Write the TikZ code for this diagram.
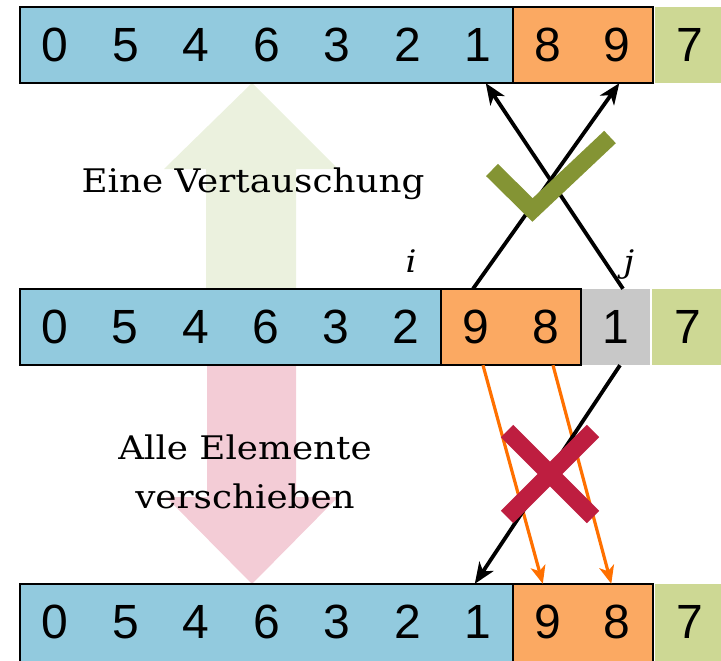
\documentclass[tikz,border=0pt]{standalone}
\usepackage{fontspec}
\setmainfont{DejaVu Serif}[FakeStretch=1.1]
\newfontfamily\numfont{Liberation Sans}
\usetikzlibrary{arrows.meta}
\definecolor{cblue}{HTML}{92CADE}
\definecolor{corange}{HTML}{FBA962}
\definecolor{cgreen}{HTML}{CDD894}
\definecolor{cgray}{HTML}{C8C8C8}
\definecolor{cupar}{HTML}{EBF1DE}
\definecolor{cdownar}{HTML}{F3CCD6}
\definecolor{ccheck}{HTML}{849434}
\definecolor{ccross}{HTML}{BE1E40}
\definecolor{carrow}{HTML}{FF7000}
\begin{document}
\begin{tikzpicture}[x=1pt,y=-1pt,
  cell/.style={minimum width=70pt,minimum height=76pt,inner sep=0pt,
    font=\numfont\fontsize{48}{50}\selectfont},
  grp/.style={draw=black,line width=2.4pt},
  conn/.style={line width=3.8pt,draw=black,-{Stealth[length=21pt,width=17pt,inset=6pt]}},
  oconn/.style={line width=3.2pt,draw=carrow,-{Stealth[length=18pt,width=15pt,inset=5pt]}},
  lab/.style={font=\fontsize{32.5}{49}\selectfont,inner sep=0pt},
  idx/.style={font=\itshape\fontsize{31}{32}\selectfont,inner sep=0pt,anchor=base}]
\useasboundingbox (0,0) rectangle (721,661);
% big faint arrows
\fill[cupar] (206,289) -- (206,169) -- (164,169) -- (252,83) -- (338,169) -- (296,169) -- (296,289) -- cycle;
\fill[cdownar] (207,366) -- (207,497) -- (166,497) -- (252,584) -- (338,497) -- (296,497) -- (296,366) -- cycle;
% labels
\node[lab,anchor=base] (lab1) at (253,192) {Eine Vertauschung};
\node[lab,anchor=north,align=center] (lab2) at (245,435) {Alle Elemente\\verschieben};
% top row
\fill[cgreen] (655,7) rectangle (724,83);
\draw[grp,fill=cblue] (20,7) rectangle (513,83);
\draw[grp,fill=corange] (513,7) rectangle (653,83);
\node[cell] (t0) at (55.2,45) {0};
\node[cell] (t1) at (125.6,45) {5};
\node[cell] (t2) at (196,45) {4};
\node[cell] (t3) at (266.5,45) {6};
\node[cell] (t4) at (337,45) {3};
\node[cell] (t5) at (407.4,45) {2};
\node[cell] (t6) at (477.8,45) {1};
\node[cell] (t7) at (547.8,45) {8};
\node[cell] (t8) at (617.3,45) {9};
\node[cell] (t9) at (689.5,45) {7};
% middle row
\fill[cgray] (582,289) rectangle (650,365);
\fill[cgreen] (652,289) rectangle (724,365);
\draw[grp,fill=cblue] (20,289) rectangle (441,365);
\draw[grp,fill=corange] (441,289) rectangle (581,365);
\node[cell] (m0) at (55.1,327) {0};
\node[cell] (m1) at (125.3,327) {5};
\node[cell] (m2) at (195.5,327) {4};
\node[cell] (m3) at (265.6,327) {6};
\node[cell] (m4) at (335.8,327) {3};
\node[cell] (m5) at (406,327) {2};
\node[cell] (m6) at (476,327) {9};
\node[cell] (m7) at (546,327) {8};
\node[cell] (m8) at (616,327) {1};
\node[cell] (m9) at (688,327) {7};
\node[idx] (li) at (411,272) {i};
\node[idx] (lj) at (629,272) {j};
% bottom row
\fill[cgreen] (655,584) rectangle (724,662);
\draw[grp,fill=cblue] (20,584) rectangle (513,662);
\draw[grp,fill=corange] (513,584) rectangle (653,662);
\node[cell] (b0) at (55.2,622) {0};
\node[cell] (b1) at (125.6,622) {5};
\node[cell] (b2) at (196,622) {4};
\node[cell] (b3) at (266.5,622) {6};
\node[cell] (b4) at (337,622) {3};
\node[cell] (b5) at (407.4,622) {2};
\node[cell] (b6) at (477.8,622) {1};
\node[cell] (b7) at (547.8,622) {9};
\node[cell] (b8) at (617.3,622) {8};
\node[cell] (b9) at (689.5,622) {7};
% swap arrows
\draw[conn] ([xshift=-3pt]m6.north) -- ([xshift=2pt]t8.south);
\draw[conn] ([xshift=7pt]m8.north) -- ([xshift=8pt]t6.south);
% checkmark
\draw[ccheck,line width=17pt] (492,170) -- (532.5,210) -- (610,137);
% shift arrows
\draw[oconn] ([xshift=7pt]m6.south) -- ([xshift=-5pt]b7.north);
\draw[oconn] ([xshift=7pt]m7.south) -- ([xshift=-6pt]b8.north);
\draw[conn] ([xshift=4pt]m8.south) -- ([xshift=-3pt]b6.north);
% cross
\draw[ccross,line width=17.5pt] (507,431) -- (593,517) (593,431) -- (507,517);
\end{tikzpicture}
\end{document}
